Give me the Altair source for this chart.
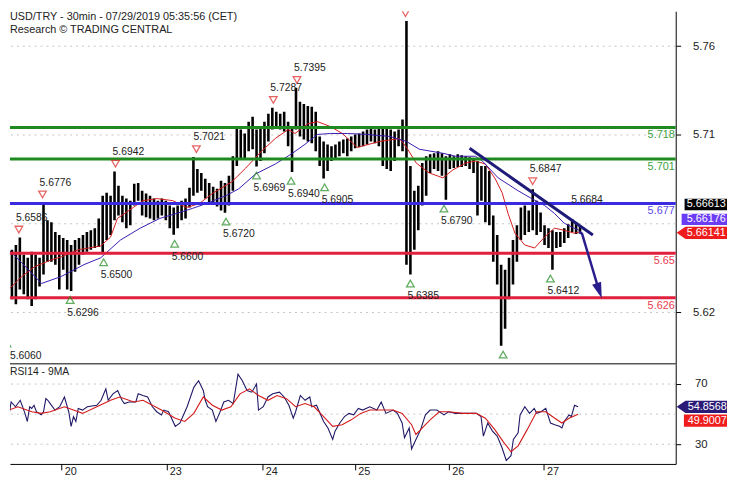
import altair as alt
import pandas as pd

FONT = "Liberation Sans"
INK = "#222222"

TITLE1 = "USD/TRY - 30min - 07/29/2019 05:35:56 (CET)"
TITLE2 = "Research \u00a9 TRADING CENTRAL"
RSI_TITLE = "RSI14 - 9MA"

# ---------------- price bars (one bar per hour, h = hours from chart start) ----------------
highs = [
    5.6519, 5.6508, 5.6519, 5.6545, 5.6586, 5.6492, 5.6476, 5.6508, 5.6492, 5.6476,
    5.6776, 5.6679, 5.6668, 5.6615, 5.6599, 5.6583, 5.6572, 5.6545, 5.6572, 5.6583,
    5.6599, 5.6615, 5.6625, 5.6636, 5.6689, 5.6812, 5.6828, 5.6812, 5.6942, 5.6865,
    5.6812, 5.6796, 5.6785, 5.6876, 5.6881, 5.6839, 5.6823, 5.6812, 5.6796, 5.6785,
    5.6796, 5.6785, 5.6759, 5.6748, 5.6759, 5.6785, 5.6796, 5.6855, 5.7021, 5.6956,
    5.6935, 5.6903, 5.6881, 5.6860, 5.6849, 5.6892, 5.6881, 5.6919, 5.7025, 5.7185,
    5.7169, 5.7148, 5.7212, 5.7239, 5.7169, 5.7185, 5.7212, 5.7255, 5.7287, 5.7265,
    5.7255, 5.7265, 5.7212, 5.7185, 5.7395, 5.7319, 5.7308, 5.7297, 5.7292, 5.7265,
    5.7132, 5.7105, 5.7089, 5.7079, 5.7089, 5.7105, 5.7116, 5.7121, 5.7132, 5.7143,
    5.7148, 5.7159, 5.7169, 5.7175, 5.7169, 5.7180, 5.7175, 5.7180, 5.7169, 5.7159,
    5.7169, 5.7223, 5.7756, 5.6972, 5.6839, 5.6865, 5.6988, 5.7025, 5.7036, 5.7041,
    5.7052, 5.7041, 5.7025, 5.7036, 5.7025, 5.7036, 5.7031, 5.7025, 5.7020, 5.7009,
    5.6999, 5.6972, 5.6972, 5.6945, 5.6705, 5.6599, 5.6439, 5.6412, 5.6476, 5.6572,
    5.6652, 5.6748, 5.6759, 5.6732, 5.6847, 5.6785, 5.6721, 5.6652, 5.6636, 5.6625,
    5.6615, 5.6615, 5.6636, 5.6657, 5.6684, 5.6668, 5.6652,
]
lows = [
    5.6252, 5.6060, 5.6252, 5.6225, 5.6305, 5.6279, 5.6252, 5.6215, 5.6252, 5.6321,
    5.6385, 5.6455, 5.6455, 5.6439, 5.6305, 5.6412, 5.6305, 5.6296, 5.6401, 5.6439,
    5.6492, 5.6508, 5.6519, 5.6529, 5.6535, 5.6500, 5.6572, 5.6599, 5.6679, 5.6705,
    5.6668, 5.6636, 5.6652, 5.6759, 5.6785, 5.6705, 5.6695, 5.6689, 5.6679, 5.6689,
    5.6705, 5.6679, 5.6636, 5.6600, 5.6636, 5.6679, 5.6689, 5.6748, 5.6812, 5.6828,
    5.6839, 5.6796, 5.6775, 5.6764, 5.6753, 5.6732, 5.6720, 5.6759, 5.6839, 5.6972,
    5.7009, 5.7015, 5.7052, 5.7063, 5.6969, 5.6999, 5.7041, 5.7105, 5.7169, 5.7185,
    5.7169, 5.7159, 5.7079, 5.6940, 5.7169, 5.7132, 5.7116, 5.7105, 5.7095, 5.7052,
    5.6972, 5.6905, 5.6945, 5.6999, 5.7015, 5.7025, 5.7041, 5.7025, 5.7052, 5.7068,
    5.7073, 5.7079, 5.7089, 5.7105, 5.7095, 5.7079, 5.6972, 5.6956, 5.6945, 5.6999,
    5.7079, 5.7052, 5.6439, 5.6385, 5.6519, 5.6625, 5.6759, 5.6812, 5.6935, 5.6956,
    5.6945, 5.6919, 5.6790, 5.6956, 5.6961, 5.6967, 5.6967, 5.6972, 5.6956, 5.6935,
    5.6705, 5.6785, 5.6668, 5.6652, 5.6455, 5.6332, 5.6001, 5.6092, 5.6252, 5.6332,
    5.6455, 5.6572, 5.6599, 5.6615, 5.6625, 5.6599, 5.6615, 5.6545, 5.6529, 5.6412,
    5.6529, 5.6535, 5.6556, 5.6583, 5.6615, 5.6604, 5.6609,
]
hours = list(range(len(highs)))

# ---------------- moving averages on price ----------------
red_ma = [
    (0.75, 5.6295), (4.5, 5.6375), (7.75, 5.6428), (12, 5.6465), (14.5, 5.6481),
    (18.75, 5.6519), (24.5, 5.6540), (27, 5.6588), (28.75, 5.6689), (32.75, 5.6748),
    (35.25, 5.6785), (38.75, 5.6796), (42.75, 5.6785), (46.25, 5.6748), (49.5, 5.6769),
    (52.75, 5.6823), (57.75, 5.6887), (61.25, 5.6961), (65.25, 5.7052), (68.75, 5.7121),
    (72, 5.7169), (73.75, 5.7148), (77, 5.7201), (79.5, 5.7212), (82.75, 5.7185),
    (85.75, 5.7148), (89.5, 5.7073), (95.25, 5.7105), (100.25, 5.7121), (102, 5.7073),
    (104.5, 5.6988), (107.75, 5.6935), (111.25, 5.6908), (113.75, 5.6951), (117, 5.6988),
    (119.5, 5.6999), (122, 5.6983), (124.5, 5.6903), (126.25, 5.6828), (127.75, 5.6716),
    (129.5, 5.6609), (132, 5.6545), (134.5, 5.6529), (137, 5.6588), (139.5, 5.6636),
    (142, 5.6625), (144.5, 5.6609), (145.75, 5.6615),
]
blue_ma = [
    (0.75, 5.6529), (4.5, 5.6449), (9.5, 5.6337), (14.5, 5.6375), (20.25, 5.6439),
    (24.5, 5.6476), (29.5, 5.6572), (34.5, 5.6636), (39.5, 5.6689), (43.75, 5.6716),
    (47.75, 5.6743), (51.25, 5.6769), (56.25, 5.6812), (59.5, 5.6849), (63.75, 5.6929),
    (68.75, 5.6983), (72.75, 5.7036), (76.25, 5.7089), (79.5, 5.7143), (82.75, 5.7148),
    (87, 5.7148), (92, 5.7143), (97.75, 5.7132), (102, 5.7105), (105.25, 5.7063),
    (111.25, 5.7041), (114.5, 5.7025), (119.5, 5.7025), (121.25, 5.6999), (125.25, 5.6908),
    (130.25, 5.6839), (133.75, 5.6796), (137, 5.6759), (139.5, 5.6716), (142, 5.6663),
    (144.5, 5.6636), (145.75, 5.6625),
]

# ---------------- RSI14 and its 9MA ----------------
rsi = [
    (1.2, 48.4), (1.8, 58.1), (2.9, 54.9), (4.1, 59.2), (5.3, 50.5), (5.9, 45.1), (6.5, 54.9),
    (7.0, 53.8), (7.6, 55.9), (8.2, 51.6), (9.4, 49.5), (10.0, 51.6), (10.6, 60.3), (11.1, 59.2),
    (11.7, 57.0), (12.9, 52.7), (14.1, 54.9), (15.3, 61.4), (16.4, 51.6), (17.0, 41.9),
    (17.6, 48.4), (18.2, 45.1), (18.8, 53.8), (19.9, 52.7), (21.1, 54.9), (23.5, 55.9),
    (24.6, 59.2), (25.8, 66.8), (26.4, 59.2), (27.6, 63.5), (28.8, 65.7), (29.9, 59.2),
    (30.5, 57.0), (31.7, 58.1), (33.4, 58.1), (34.0, 63.5), (35.2, 62.4), (36.4, 61.4),
    (37.6, 54.9), (38.7, 51.6), (39.9, 49.5), (40.5, 52.7), (41.7, 51.6), (43.4, 41.9),
    (44.6, 44.1), (46.4, 54.9), (48.1, 67.8), (49.3, 72.2), (50.5, 65.7), (51.0, 59.2),
    (51.6, 54.9), (52.8, 52.7), (53.7, 45.1), (54.6, 50.5), (55.7, 58.1), (56.9, 59.2),
    (58.1, 57.0), (59.3, 76.5), (60.4, 72.2), (61.6, 65.7), (62.8, 64.6), (64.0, 70.0),
    (64.5, 52.7), (65.7, 54.9), (66.9, 61.4), (68.1, 63.5), (69.8, 64.6), (71.0, 61.4),
    (72.2, 55.9), (73.3, 47.3), (73.9, 51.6), (75.1, 62.4), (76.3, 59.2), (77.5, 61.4),
    (78.0, 54.9), (79.2, 55.9), (81.0, 45.1), (82.1, 40.8), (83.3, 33.2), (83.9, 38.7),
    (85.1, 44.1), (86.3, 48.4), (87.4, 50.5), (88.6, 49.5), (89.8, 53.8), (90.9, 52.7),
    (92.7, 54.9), (94.5, 52.7), (95.6, 58.1), (96.8, 50.5), (98.6, 52.7), (99.7, 50.5),
    (100.9, 44.1), (101.5, 34.3), (102.7, 40.8), (103.3, 26.8), (104.4, 33.2), (105.6, 39.7),
    (106.8, 49.5), (108.0, 52.7), (109.7, 52.7), (111.5, 49.5), (112.7, 51.6), (114.4, 50.5),
    (117.4, 50.5), (119.7, 50.5), (120.9, 48.4), (121.5, 35.4), (122.6, 44.1), (123.8, 38.7),
    (125.0, 35.4), (126.2, 27.8), (127.3, 19.2), (128.5, 22.4), (129.1, 33.2), (130.3, 37.6),
    (130.8, 49.5), (132.0, 54.9), (133.2, 50.5), (134.4, 53.8), (135.0, 50.5), (136.1, 51.6),
    (137.3, 53.8), (138.5, 44.1), (139.6, 43.0), (140.8, 41.9), (141.4, 40.8), (142.0, 45.1),
    (143.2, 49.5), (143.8, 48.4), (144.6, 55.9), (145.5, 54.86),
]
rsi_ma = [
    (1.2, 52.7), (3.5, 54.9), (7.0, 51.6), (9.4, 50.5), (11.7, 51.6), (15.3, 54.9), (17.6, 52.7),
    (19.9, 50.5), (23.5, 54.9), (27.0, 59.2), (29.3, 61.4), (32.9, 58.1), (35.2, 59.2),
    (37.6, 55.9), (39.9, 52.7), (43.4, 47.3), (45.8, 45.1), (48.1, 50.5), (50.5, 61.4),
    (52.8, 55.9), (55.2, 52.7), (57.5, 54.9), (59.8, 63.5), (62.2, 66.8), (64.5, 62.4),
    (66.9, 59.2), (69.2, 62.4), (71.6, 60.3), (73.9, 54.9), (76.3, 57.0), (78.6, 54.9),
    (81.0, 48.4), (83.3, 41.9), (85.7, 43.0), (88.0, 46.2), (90.4, 50.5), (92.7, 52.7),
    (95.1, 52.7), (98.6, 52.7), (100.9, 50.5), (103.3, 43.0), (104.4, 36.5), (105.6, 39.7),
    (108.0, 46.2), (110.3, 51.6), (112.7, 51.6), (116.2, 50.5), (119.7, 50.5), (122.0, 47.3),
    (124.4, 39.7), (126.7, 31.1), (128.5, 25.0), (130.3, 28.9), (132.6, 39.7), (135.0, 51.6),
    (137.3, 51.6), (139.6, 47.3), (141.4, 44.1), (143.2, 47.3), (145.5, 49.9),
]

# ---------------- pivots ----------------
peak_h = [3.75, 9.75, 28.25, 48.75, 68.25, 74.25, 101.75, 134.0, 144.5]
peak_p = [5.6586, 5.6776, 5.6942, 5.7021, 5.7287, 5.7395, 5.7756, 5.6847, 5.6684]
peak_txt = ["5.6586", "5.6776", "5.6942", "5.7021", "5.7287", "5.7395", "", "5.6847", "5.6684"]
peak_tri = [True, True, True, True, True, True, True, True, False]

trough_h = [0.75, 16.75, 25.25, 43.25, 56.25, 64.0, 72.75, 81.25, 103.0, 111.5, 126.5, 138.5]
trough_lh = [2.25, 16.75, 25.25, 43.25, 56.25, 64.0, 72.75, 81.25, 103.0, 111.5, 126.5, 138.5]
trough_p = [5.6060, 5.6296, 5.6500, 5.6600, 5.6720, 5.6969, 5.6940, 5.6905, 5.6385, 5.6790, 5.6001, 5.6412]
trough_txt = ["5.6060", "5.6296", "5.6500", "5.6600", "5.6720", "5.6969", "5.6940", "5.6905",
              "5.6385", "5.6790", "", "5.6412"]

# ---------------- key levels ----------------
level_p = [5.718, 5.701, 5.677, 5.65, 5.626]
level_txt = ["5.718", "5.701", "5.677", "5.65", "5.626"]
level_line = ["#1f8a1f", "#1f8a1f", "#3a2be0", "#e0203c", "#e0203c"]
level_font = ["#3f9f3f", "#3f9f3f", "#5a48ea", "#ea3a4e", "#ea3a4e"]

# ---------------- trend line and target arrow ----------------
trend_h = [118.0, 149.25]
trend_p = [5.7068, 5.6599]
arrow_h = [145.75, 146.5, 151.0]
arrow_p = [5.6615, 5.6607, 5.6285]
head_h = [150.85]
head_p = [5.6298]

# ---------------- last-value boxes ----------------
pbox_p = [5.6764, 5.6684, 5.6611]
pbox_txt = ["5.66613", "5.66176", "5.66141"]
pbox_fill = ["#000000", "#6b3cf5", "#ee1c1c"]
pbox_shape = [
    "M -0.87 -0.25 L 1 -0.25 L 1 0.25 L -0.87 0.25 Z",
    "M -1 -0.25 L 1 -0.25 L 1 0.25 L -1 0.25 Z",
    "M -1.22 0 L -0.83 -0.27 L 1 -0.27 L 1 0.27 L -0.83 0.27 Z",
]
rbox_v = [54.86, 45.7]
rbox_txt = ["54.8568", "49.9007"]
rbox_fill = ["#2b1a78", "#ee1c1c"]
rbox_shape = [
    "M -1.22 0 L -0.83 -0.27 L 1 -0.27 L 1 0.27 L -0.83 0.27 Z",
    "M -0.9 -0.27 L 1 -0.27 L 1 0.27 L -0.9 0.27 Z",
]

price_grid = [5.762, 5.714, 5.666, 5.618]
price_ticks = [5.762, 5.714, 5.618]
rsi_grid = [30, 50, 70]
rsi_ticks = [70, 30]
day_pos = [14.5, 41.15, 65.45, 88.9, 112.75, 136.75]
day_lab = ["20", "23", "24", "25", "26", "27"]

# ---------------- scales / axes ----------------
W = 675
H_PRICE = 358
H_RSI = 101
xscale = alt.Scale(domain=[1.5, 170.25], nice=False, zero=False)
pscale = alt.Scale(domain=[5.5900, 5.7809], nice=False, zero=False)
rscale = alt.Scale(domain=[16.9, 83.1], nice=False, zero=False)

x_axis_price = alt.Axis(labels=False, ticks=False, grid=False, domain=False, title=None, minExtent=0)
expr = " : ".join(f"datum.value < {p + 5} ? '{l}'" for p, l in zip(day_pos[:-1], day_lab[:-1])) + f" : '{day_lab[-1]}'"
x_axis_rsi = alt.Axis(values=day_pos, labelExpr=expr, grid=False, domain=True, domainColor="black",
                      ticks=True, tickColor="black", tickSize=6, labelAlign="left", labelBaseline="top",
                      labelOffset=3, labelPadding=-4, labelFontSize=11, title=None)
p_axis = alt.Axis(orient="right", values=price_ticks, format=".2f", grid=False, domainColor="black",
                  tickColor="black", tickSize=5, labelPadding=12, labelFontSize=11.5, title=None)
r_axis = alt.Axis(orient="right", values=rsi_ticks, format="d", grid=False, domainColor="black",
                  tickColor="black", tickSize=5, labelPadding=14, labelFontSize=11.5, title=None)


def XP(f):
    return alt.X(f, type="quantitative", scale=xscale, axis=x_axis_price)


def XR(f):
    return alt.X(f, type="quantitative", scale=xscale, axis=x_axis_rsi)


def YP(f):
    return alt.Y(f, type="quantitative", scale=pscale, axis=p_axis)


def YR(f):
    return alt.Y(f, type="quantitative", scale=rscale, axis=r_axis)


# ---------------- price panel ----------------
bars_df = pd.DataFrame({"h": hours, "hi": highs, "lo": lows})
red_df = pd.DataFrame(red_ma, columns=["h", "p"])
blue_df = pd.DataFrame(blue_ma, columns=["h", "p"])
peaks_df = pd.DataFrame({"h": peak_h, "p": peak_p, "t": peak_txt, "tri": peak_tri})
troughs_df = pd.DataFrame({"h": trough_h, "lh": trough_lh, "p": trough_p, "t": trough_txt})
lev_df = pd.DataFrame({"p": level_p, "t": level_txt, "c": level_line, "fc": level_font})

grid_p = alt.Chart(pd.DataFrame({"g": price_grid})).mark_rule(
    color="#c4c4c4", strokeDash=[2, 4], strokeWidth=1).encode(y=YP("g"))

bars = alt.Chart(bars_df).mark_rule(color="black", strokeWidth=2.6, clip=True).encode(
    x=XP("h"), y=YP("lo"), y2="hi")

red_line = alt.Chart(red_df).mark_line(color="#d41a1a", strokeWidth=1, clip=True).encode(
    x=XP("h"), y=YP("p"))
blue_line = alt.Chart(blue_df).mark_line(color="#3a1ab0", strokeWidth=1, clip=True).encode(
    x=XP("h"), y=YP("p"))

lev_lines = alt.Chart(lev_df).mark_rule(strokeWidth=3).encode(
    y=YP("p"), color=alt.Color("c:N", scale=None))
lev_text = alt.Chart(lev_df).mark_text(align="right", baseline="middle", dy=8, fontSize=11,
                                       font=FONT).encode(
    x=alt.value(W - 1), y=YP("p"), text="t:N", color=alt.Color("fc:N", scale=None))

trend = alt.Chart(pd.DataFrame({"h": trend_h, "p": trend_p})).mark_line(
    color="#1e1b78", strokeWidth=3).encode(x=XP("h"), y=YP("p"))
arrow = alt.Chart(pd.DataFrame({"h": arrow_h, "p": arrow_p})).mark_line(
    color="#2a1e8c", strokeWidth=2.5).encode(x=XP("h"), y=YP("p"))
head = alt.Chart(pd.DataFrame({"h": head_h, "p": head_p})).mark_point(
    shape="M -0.6 -1 L 0.6 -1 L 0 1 Z", filled=True, color="#2a1e8c", size=256, angle=341,
    opacity=1).encode(x=XP("h"), y=YP("p"))

peak_tris = alt.Chart(peaks_df).transform_filter("datum.tri").mark_point(
    shape="triangle-down", filled=False, color="#dd2222", size=60, strokeWidth=1.3, yOffset=-8,
    clip=True).encode(x=XP("h"), y=YP("p"))
peak_labels = alt.Chart(peaks_df).transform_filter("datum.t != ''").mark_text(
    align="left", baseline="middle", dx=-3, dy=-20, fontSize=10.5, font=FONT, color=INK).encode(
    x=XP("h"), y=YP("p"), text="t:N")
trough_tris = alt.Chart(troughs_df).mark_point(
    shape="triangle-up", filled=False, color="#1f8a1f", size=60, strokeWidth=1.3, yOffset=9,
    clip=True).encode(x=XP("h"), y=YP("p"))
trough_labels = alt.Chart(troughs_df).transform_filter("datum.t != ''").mark_text(
    align="left", baseline="middle", dx=-3, dy=22, fontSize=10.5, font=FONT, color=INK).encode(
    x=XP("lh"), y=YP("p"), text="t:N")

pbox_df = pd.DataFrame({"p": pbox_p, "t": pbox_txt, "f": pbox_fill, "s": pbox_shape})
pboxes = alt.Chart(pbox_df).mark_point(filled=True, opacity=1, strokeWidth=0, size=2116).encode(
    x=alt.value(704), y=YP("p"), color=alt.Color("f:N", scale=None), shape=alt.Shape("s:N", scale=None))
pbox_text = alt.Chart(pbox_df).mark_text(align="center", baseline="middle", fontSize=11,
                                         font=FONT, color="white").encode(
    x=alt.value(706), y=YP("p"), text="t:N")

title1 = alt.Chart(pd.DataFrame({"t": [TITLE1]})).mark_text(
    align="left", baseline="top", fontSize=11, font=FONT, color=INK).encode(
    x=alt.value(0), y=alt.value(0), text="t:N")
title2 = alt.Chart(pd.DataFrame({"t": [TITLE2]})).mark_text(
    align="left", baseline="top", fontSize=11, font=FONT, color=INK).encode(
    x=alt.value(0), y=alt.value(13), text="t:N")

# panel separator (bottom frame of the price pane)
sep = alt.Chart(pd.DataFrame({"k": [0]})).mark_rule(color="black", strokeWidth=1).encode(
    x=alt.value(0), x2=alt.value(W), y=alt.value(H_PRICE - 0.5))

price = alt.layer(
    grid_p, bars, red_line, blue_line, lev_lines, lev_text, trend, arrow, head,
    peak_tris, peak_labels, trough_tris, trough_labels, pboxes, pbox_text, title1, title2, sep,
).properties(width=W, height=H_PRICE)

# ---------------- RSI panel ----------------
rsi_df = pd.DataFrame(rsi, columns=["h", "v"])
rsima_df = pd.DataFrame(rsi_ma, columns=["h", "v"])
rbox_df = pd.DataFrame({"v": rbox_v, "t": rbox_txt, "f": rbox_fill, "s": rbox_shape})

grid_r = alt.Chart(pd.DataFrame({"g": rsi_grid})).mark_rule(
    color="#c4c4c4", strokeDash=[2, 4], strokeWidth=1).encode(y=YR("g"))
rsi_line = alt.Chart(rsi_df).mark_line(color="#1f1866", strokeWidth=1.1, clip=True).encode(
    x=XR("h"), y=YR("v"))
rsima_line = alt.Chart(rsima_df).mark_line(color="#d41a1a", strokeWidth=1.1, clip=True).encode(
    x=XR("h"), y=YR("v"))
rboxes = alt.Chart(rbox_df).mark_point(filled=True, opacity=1, strokeWidth=0, size=2116).encode(
    x=alt.value(704), y=YR("v"), color=alt.Color("f:N", scale=None), shape=alt.Shape("s:N", scale=None))
rbox_text = alt.Chart(rbox_df).mark_text(align="center", baseline="middle", fontSize=11,
                                         font=FONT, color="white").encode(
    x=alt.value(707), y=YR("v"), text="t:N")
rsi_title = alt.Chart(pd.DataFrame({"t": [RSI_TITLE]})).mark_text(
    align="left", baseline="middle", fontSize=10.5, font=FONT, color=INK).encode(
    x=alt.value(0), y=alt.value(8), text="t:N")

rsi_panel = alt.layer(grid_r, rsi_line, rsima_line, rboxes, rbox_text, rsi_title).properties(
    width=W, height=H_RSI)

chart = alt.vconcat(price, rsi_panel, spacing=0).properties(
    padding=0, background="white"
).configure_view(stroke=None).configure_axis(
    labelFont=FONT, labelColor=INK
)

chart.save("out.html", embed_options={"renderer": "svg", "actions": False})
